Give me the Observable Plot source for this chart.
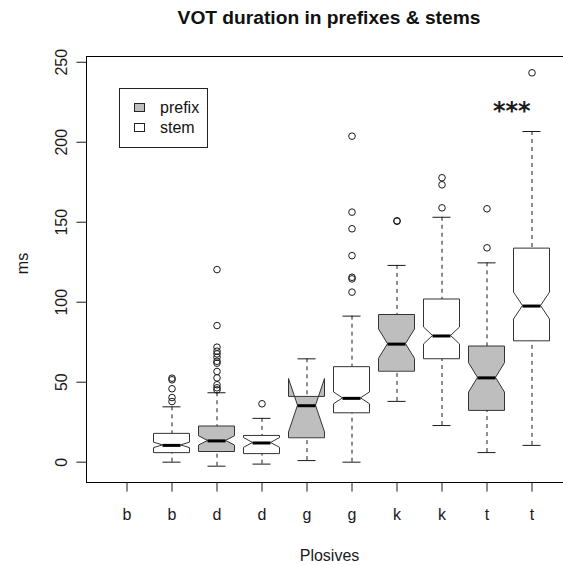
<!DOCTYPE html>
<html><head><meta charset="utf-8">
<script src="https://cdn.jsdelivr.net/npm/d3@7"></script>
<script src="https://cdn.jsdelivr.net/npm/@observablehq/plot@0.6"></script>
<style>
html,body{margin:0;padding:0;background:#fff;overflow:hidden;}
body{width:563px;height:565px;position:relative;font-family:"Liberation Sans",Arial,sans-serif;}
#title{height:36px;line-height:36px;margin-left:86px;width:486px;text-align:center;font-weight:bold;font-size:19.2px;color:#111;white-space:nowrap;}
#legend{position:absolute;left:118.5px;top:88px;width:89px;height:60px;border:1px solid #222;box-sizing:border-box;font-size:16px;line-height:16px;color:#111;background:#fff;}
#legend .sw{position:absolute;width:11px;height:9px;border:1px solid #222;box-sizing:border-box;}
#legend .lb{position:absolute;white-space:nowrap;}
#chart svg{display:block;}
</style>
</head><body>
<div id="title">VOT duration in prefixes &amp; stems</div>
<div id="chart"></div>
<div id="legend"></div>
<script>
// ---- data ----
const categories = ["b","b","d","d","g","g","k","k","t","t"];
const groups     = ["prefix","stem","prefix","stem","prefix","stem","prefix","stem","prefix","stem"];
const lowerWhisker = [null, 0.0, -2.5, -1.2,  1.0,  0.0, 38.0,  22.9,   6.0,  10.5];
const q1           = [null, 5.9,  6.6,  5.3, 15.2, 30.8, 56.8,  64.6,  32.3,  75.8];
const median       = [null,10.5, 13.3, 12.0, 35.3, 39.9, 73.8,  78.9,  52.7,  97.6];
const q3           = [null,17.7, 22.3, 16.4, 40.8, 59.4, 92.0, 101.7,  72.3, 133.5];
const notchLow     = [null, 8.8, 10.4,  9.0, 18.6, 36.2, 64.6,  73.6,  43.5,  89.2];
const notchHigh    = [null,12.2, 16.2, 15.1, 52.0, 43.6, 83.0,  84.2,  61.9, 106.0];
const upperWhisker = [null,34.6, 43.4, 27.4, 64.6, 91.3,123.0, 153.1, 124.6, 206.7];
const outlierValues = [
  [],
  [52.5, 51.5, 45.9, 40.4, 37.9],
  [120.4, 85.4, 71.9, 69.4, 67.7, 65.6, 63.1, 61.9, 56.7, 52.7, 48.4, 46.5, 45.2],
  [36.5],
  [],
  [203.8, 156.3, 145.9, 129.1, 115.6, 114.6, 106.3],
  [150.6, 150.9],
  [177.8, 173.4, 159.0],
  [158.4, 134.0],
  [243.4]
];
const yTicks = [0, 50, 100, 150, 200, 250];
const significance = [{pos: 9.55, value: 219.5, label: "***"}];
const legendItems = [{label: "prefix", fill: "#bebebe"}, {label: "stem", fill: "#ffffff"}];
const fills = {prefix: "#bebebe", stem: "#ffffff"};

// ---- derived tables ----
const HALF = 0.4, NOTCH = 0.5, STAPLE = 0.2;
const boxes = categories.map((c, i) => ({
  pos: i + 1, cat: c, group: groups[i],
  lo: lowerWhisker[i], q1: q1[i], med: median[i], q3: q3[i],
  nlo: notchLow[i], nhi: notchHigh[i], hi: upperWhisker[i]
})).filter(b => b.med != null);
const verts = boxes.flatMap(b => [
  {pos: b.pos, group: b.group, y: b.q1, f: 1},
  {pos: b.pos, group: b.group, y: b.nlo, f: 1},
  {pos: b.pos, group: b.group, y: b.med, f: NOTCH},
  {pos: b.pos, group: b.group, y: b.nhi, f: 1},
  {pos: b.pos, group: b.group, y: b.q3, f: 1}
]);
const outliers = outlierValues.flatMap((vals, i) => vals.map(v => ({pos: i + 1, value: v})));

const ink = "#1a1a1a";
const chart = Plot.plot({
  width: 572, height: 529,
  marginLeft: 86, marginRight: 0, marginTop: 20, marginBottom: 83,
  style: {fontFamily: "Liberation Sans, Arial, sans-serif", fontSize: "16px", color: ink, background: "white", maxWidth: "none", overflow: "visible"},
  x: {type: "linear", domain: [0.1, 10.9]},
  y: {domain: [-12.7, 253.6]},
  marks: [
    Plot.ruleX(boxes, {x: "pos", y1: "lo", y2: "q1", stroke: ink, strokeWidth: 1, strokeDasharray: "4,4"}),
    Plot.ruleX(boxes, {x: "pos", y1: "hi", y2: "q3", stroke: ink, strokeWidth: 1, strokeDasharray: "4,4"}),
    Plot.ruleY(boxes, {y: "lo", x1: d => d.pos - STAPLE, x2: d => d.pos + STAPLE, stroke: ink, strokeWidth: 1}),
    Plot.ruleY(boxes, {y: "hi", x1: d => d.pos - STAPLE, x2: d => d.pos + STAPLE, stroke: ink, strokeWidth: 1}),
    Plot.areaX(verts.filter(d => d.group === "prefix"), {y: "y", x1: d => d.pos - HALF * d.f, x2: d => d.pos + HALF * d.f, z: "pos", fill: fills.prefix, stroke: "#333", strokeWidth: 1, curve: "linear"}),
    Plot.areaX(verts.filter(d => d.group === "stem"), {y: "y", x1: d => d.pos - HALF * d.f, x2: d => d.pos + HALF * d.f, z: "pos", fill: fills.stem, stroke: "#333", strokeWidth: 1, curve: "linear"}),
    Plot.ruleY(boxes, {y: "med", x1: d => d.pos - HALF * NOTCH, x2: d => d.pos + HALF * NOTCH, stroke: "black", strokeWidth: 3}),
    Plot.dot(outliers, {x: "pos", y: "value", r: 3.3, stroke: ink, strokeWidth: 1, fill: "none"}),
    Plot.text(significance, {x: "pos", y: "value", text: "label", fontSize: 24, fontWeight: "bold", fontFamily: "DejaVu Sans", fill: ink}),
    Plot.frame({stroke: "black", strokeWidth: 1}),
    Plot.axisX({ticks: d3.range(1, 11), tickFormat: i => categories[i - 1], tickSize: 9.6, tickPadding: 17, fontSize: 16, label: null, stroke: ink}),
    Plot.axisY({ticks: yTicks, tickSize: 9.6, tickPadding: 9.9, tickRotate: -90, fontSize: 16, label: null, stroke: ink}),
    Plot.text(["ms"], {text: d => d, frameAnchor: "left", dx: -58.7, dy: -6, rotate: -90, textAnchor: "middle", lineAnchor: "bottom", fontSize: 16, fill: ink}),
    Plot.text(["Plosives"], {text: d => d, frameAnchor: "bottom", dy: 78, lineAnchor: "bottom", fontSize: 16, fill: ink})
  ]
});
document.getElementById("chart").appendChild(chart);

// legend (R-style boxed legend inside the plot region)
const lg = document.getElementById("legend");
legendItems.forEach((it, i) => {
  const sw = document.createElement("div");
  sw.className = "sw";
  sw.style.left = "14.5px"; sw.style.top = (13.5 + 20 * i) + "px"; sw.style.background = it.fill;
  lg.appendChild(sw);
  const lb = document.createElement("div");
  lb.className = "lb";
  lb.style.left = "40.5px"; lb.style.top = (10.5 + 20 * i) + "px";
  lb.textContent = it.label;
  lg.appendChild(lb);
});
</script>
</body></html>
